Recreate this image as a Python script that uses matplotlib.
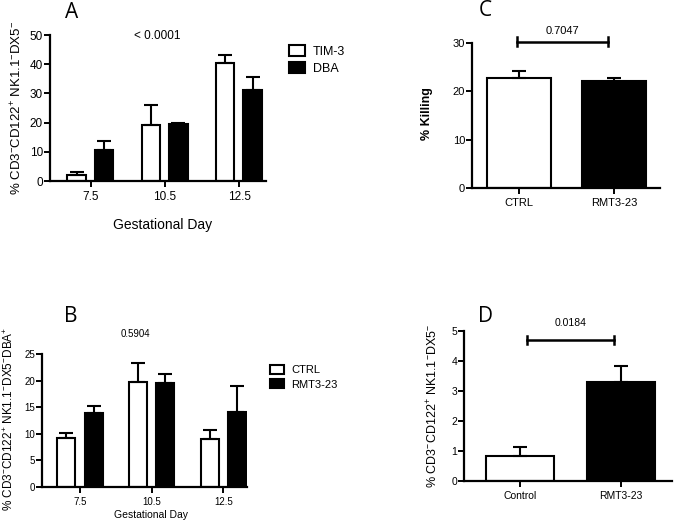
import numpy as np
import matplotlib
matplotlib.use("Agg")
import matplotlib.pyplot as plt
from matplotlib.patches import Patch

plt.rcParams["font.family"] = ["Liberation Sans", "DejaVu Sans"]
plt.rcParams["mathtext.default"] = "regular"

# panel A
days = ["7.5", "10.5", "12.5"]
a_tim3 = [2.2, 19.3, 40.5]
a_tim3_err = [0.8, 6.7, 2.5]
a_dba = [10.7, 19.5, 31.0]
a_dba_err = [3.0, 0.4, 4.5]

# panel B
b_ctrl = [9.3, 19.8, 9.0]
b_ctrl_err = [0.9, 3.6, 1.7]
b_rmt = [13.9, 19.5, 14.1]
b_rmt_err = [1.3, 1.7, 4.9]

# panel C
c_groups = ["CTRL", "RMT3-23"]
c_vals = [22.8, 22.2]
c_err = [1.5, 0.6]

# panel D
d_groups = ["Control", "RMT3-23"]
d_vals = [0.83, 3.3]
d_err = [0.32, 0.53]

W, H = 674, 522
fig = plt.figure(figsize=(W / 100, H / 100), dpi=100)


def make_ax(l, r, b, t):
    return fig.add_axes([l / W, 1 - b / H, (r - l) / W, (b - t) / H])


def style(ax, fs):
    for s in ["top", "right"]:
        ax.spines[s].set_visible(False)
    for s in ["left", "bottom"]:
        ax.spines[s].set_linewidth(1.6)
    ax.tick_params(axis="y", width=1.4, length=4, labelsize=fs, pad=1)
    ax.tick_params(axis="x", width=1.4, length=4, labelsize=fs, pad=3)


def bars(ax, x, vals, errs, color, width):
    ax.bar(x, vals, width, color=color, edgecolor="black", linewidth=1.5, zorder=2)
    ax.errorbar(x, vals, yerr=[np.zeros(len(errs)), errs], fmt="none",
                ecolor="black", elinewidth=1.5, capsize=5, capthick=1.5, zorder=3)


# ---- A
ax = make_ax(50, 266, 181, 35)
x = np.arange(3)
bars(ax, x - 0.19, a_tim3, a_tim3_err, "white", 0.25)
bars(ax, x + 0.18, a_dba, a_dba_err, "black", 0.25)
ax.set_xlim(-0.55, 2.36)
ax.set_ylim(0, 50)
ax.set_yticks([0, 10, 20, 30, 40, 50])
ax.set_xticks(x)
ax.set_xticklabels(days)
style(ax, 8.5)
ax.set_ylabel(r"% CD3$^{-}$CD122$^{+}$ NK1.1$^{-}$DX5$^{-}$", fontsize=9.5)
fig.text(163 / W, 1 - 225 / H, "Gestational Day", ha="center", va="center", fontsize=10)
fig.text(72 / W, 1 - 12 / H, "A", ha="center", va="center", fontsize=15, family="Open Sans")
fig.text(157 / W, 1 - 36 / H, "< 0.0001", ha="center", va="center", fontsize=8.5)
fig.legend(handles=[Patch(facecolor="white", edgecolor="black", linewidth=1.5, label="TIM-3"),
                    Patch(facecolor="black", edgecolor="black", linewidth=1.5, label="DBA")],
           loc="upper left", bbox_to_anchor=(280 / W, 1 - 36 / H), frameon=False,
           fontsize=9, handlelength=1.3, handleheight=1.0, labelspacing=0.35,
           handletextpad=0.6, borderpad=0.2)

# ---- B
ax = make_ax(42, 247, 487, 354)
bars(ax, x - 0.19, b_ctrl, b_ctrl_err, "white", 0.25)
bars(ax, x + 0.19, b_rmt, b_rmt_err, "black", 0.25)
ax.set_xlim(-0.53, 2.33)
ax.set_ylim(0, 25)
ax.set_yticks([0, 5, 10, 15, 20, 25])
ax.set_xticks(x)
ax.set_xticklabels(days)
style(ax, 7)
ax.set_ylabel(r"% CD3$^{-}$CD122$^{+}$ NK1.1$^{-}$DX5$^{-}$DBA$^{+}$", fontsize=8.5)
ax.yaxis.set_label_coords(-26 / 205, 0.51)
fig.text(151 / W, 1 - 515 / H, "Gestational Day", ha="center", va="center", fontsize=7.5)
fig.text(71 / W, 1 - 317 / H, "B", ha="center", va="center", fontsize=15, family="Open Sans")
fig.text(135 / W, 1 - 334 / H, "0.5904", ha="center", va="center", fontsize=7)
fig.legend(handles=[Patch(facecolor="white", edgecolor="black", linewidth=1.5, label="CTRL"),
                    Patch(facecolor="black", edgecolor="black", linewidth=1.5, label="RMT3-23")],
           loc="upper left", bbox_to_anchor=(262 / W, 1 - 357 / H), frameon=False,
           fontsize=8, handlelength=1.3, handleheight=0.9, labelspacing=0.35,
           handletextpad=0.6, borderpad=0.2)

# ---- C
ax = make_ax(472, 660, 188, 43)
xc = np.arange(2)
bars(ax, xc[:1], c_vals[:1], c_err[:1], "white", 0.67)
bars(ax, xc[1:], c_vals[1:], c_err[1:], "black", 0.67)
ax.set_xlim(-0.49, 1.48)
ax.set_ylim(0, 30)
ax.set_yticks([0, 10, 20, 30])
ax.set_xticks(xc)
ax.set_xticklabels(c_groups)
style(ax, 8)
ax.set_ylabel("% Killing", fontsize=9, fontweight="bold")
ax.yaxis.set_label_coords(-39 / 188, 0.51)
ax.plot([-0.02, 0.93], [30.3, 30.3], color="black", lw=1.8, clip_on=False)
for xx in [-0.02, 0.93]:
    ax.plot([xx, xx], [29.3, 31.3], color="black", lw=1.8, clip_on=False)
ax.text(0.455, 32.5, "0.7047", ha="center", va="center", fontsize=8)
fig.text(485 / W, 1 - 11 / H, "C", ha="center", va="center", fontsize=15, family="Open Sans")

# ---- D
ax = make_ax(464, 672, 481, 331)
bars(ax, xc[:1], d_vals[:1], d_err[:1], "white", 0.67)
bars(ax, xc[1:], d_vals[1:], d_err[1:], "black", 0.67)
ax.set_xlim(-0.55, 1.50)
ax.set_ylim(0, 5)
ax.set_yticks([0, 1, 2, 3, 4, 5])
ax.set_xticks(xc)
ax.set_xticklabels(d_groups)
style(ax, 7.5)
ax.set_ylabel(r"% CD3$^{-}$CD122$^{+}$ NK1.1$^{-}$DX5$^{-}$", fontsize=9, labelpad=8)
ax.plot([0.07, 0.93], [4.7, 4.7], color="black", lw=1.8, clip_on=False)
for xx in [0.07, 0.93]:
    ax.plot([xx, xx], [4.58, 4.82], color="black", lw=1.8, clip_on=False)
ax.text(0.5, 5.25, "0.0184", ha="center", va="center", fontsize=7.5)
fig.text(486 / W, 1 - 317 / H, "D", ha="center", va="center", fontsize=15, family="Open Sans")

fig.savefig("out.png", dpi=100)
